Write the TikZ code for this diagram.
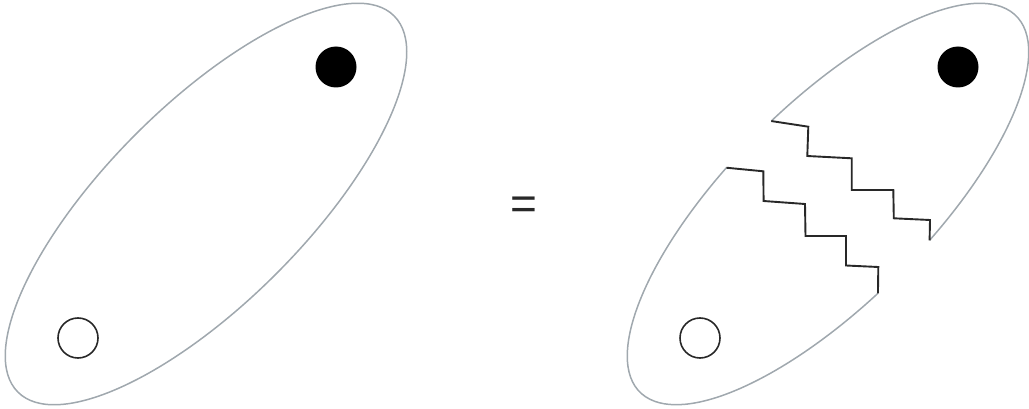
\documentclass[tikz,border=0pt]{standalone}
\usepackage{fontspec}
\newfontfamily\eqfont{Liberation Sans}
\definecolor{outline}{RGB}{160,168,174}
\definecolor{crack}{RGB}{40,40,40}
\begin{document}
\begin{tikzpicture}[x=1pt,y=-1pt,
  shell/.style={draw=outline, line width=1.5pt},
  crackline/.style={draw=crack, line width=1.9pt, line join=miter},
  dotfull/.style={circle, fill=black, minimum size=41pt, inner sep=0pt},
  dotopen/.style={circle, draw=crack, line width=1.6pt, fill=white, minimum size=40pt, inner sep=0pt}]
\useasboundingbox (0,0) rectangle (1029,409);
% left whole ellipse
\draw[shell, rotate around={45:(206,204)}] (206,204) ellipse[x radius=266, y radius=99];
\node[dotfull] (f1) at (336,67) {};
\node[dotopen] (o1) at (78,338) {};
% equals
\node[font=\eqfont\fontsize{46}{46}\selectfont, text=crack, inner sep=0pt] (eq) at (524,208) {=};
% right broken ellipse
\begin{scope}[shift={(828,204)}, rotate=45]
  \coordinate (ua) at (80:266 and 99);
  \coordinate (ub) at (-86:266 and 99);
  \coordinate (la) at (-100:266 and 99);
  \coordinate (lb) at (96:266 and 99);
  \draw[shell] (ua) arc[start angle=80, end angle=-86, x radius=266, y radius=99];
  \draw[shell] (la) arc[start angle=-100, end angle=-264, x radius=266, y radius=99];
\end{scope}
\draw[crackline] (ub) -- (808.3,126.7) -- (807.3,156) -- (851.7,158.3) -- (851.7,190)
  -- (893.3,190) -- (893.8,218.3) -- (930,220) -- (ua);
\draw[crackline] (la) -- (763.3,171.3) -- (763.6,201) -- (805,204) -- (805.5,236)
  -- (846,236) -- (846,265.5) -- (878.3,267) -- (lb);
\node[dotfull] (f2) at (958,67) {};
\node[dotopen] (o2) at (700,338) {};
\end{tikzpicture}
\end{document}
